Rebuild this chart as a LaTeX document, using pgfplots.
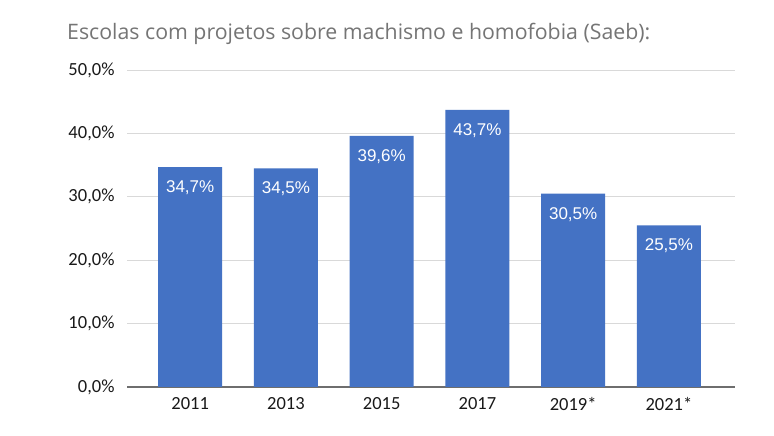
\documentclass[border=0pt]{standalone}
\usepackage{fontspec}
\usepackage{pgfplots}
\pgfplotsset{compat=1.18}
\setmainfont{Carlito}
\newfontfamily\titlefont{Open Sans}
\newfontfamily\labelfont{Liberation Sans}
\definecolor{barblue}{HTML}{4472C4}
\definecolor{titlegray}{HTML}{757575}
\definecolor{gridgray}{HTML}{D9D9D9}
\definecolor{axisgray}{HTML}{6E6E6E}
\begin{document}
\begin{tikzpicture}
\useasboundingbox[fill=white] (0pt,0pt) rectangle (774pt,436pt);
\node[anchor=base west, inner sep=0pt, text=titlegray] at (67pt,396pt) {\titlefont\fontsize{21.3}{24}\selectfont Escolas com projetos sobre machismo e homofobia (Saeb):};
\begin{axis}[
  at={(127pt,49pt)}, anchor=south west,
  scale only axis, width=608pt, height=317pt,
  xmin=-0.66, xmax=5.69, ymin=0, ymax=50,
  axis x line*=bottom, axis y line*=left,
  x axis line style={axisgray, line width=1.4pt, -},
  y axis line style={draw=none},
  ytick={0,10,20,30,40,50},
  xtick={0,1,2,3,4,5},
  xticklabels={2011,2013,2015,2017,2019*,2021*},
  major tick length=0pt,
  ymajorgrids, grid style={gridgray, line width=0.9pt},
  /pgf/number format/assume math mode=true,
  yticklabel={\pgfmathprintnumber[fixed,fixed zerofill,precision=1,use comma]{\tick}\%},
  yticklabel style={font=\fontsize{18.5}{22}\selectfont, text=black!90, xshift=-9pt},
  xticklabel style={font=\fontsize{18.5}{22}\selectfont, text=black!90, yshift=-7pt},
  ybar, bar width=64pt,
  nodes near coords={\pgfmathprintnumber[fixed,fixed zerofill,precision=1,use comma]{\pgfplotspointmeta}\%},
  nodes near coords style={anchor=north, yshift=-10pt, text=white, font=\labelfont\fontsize{17}{20}\selectfont},
  clip=false,
]
\addplot[fill=barblue, draw=none] coordinates {(0,34.7) (1,34.5) (2,39.6) (3,43.7) (4,30.5) (5,25.5)};
\end{axis}
\end{tikzpicture}
\end{document}
